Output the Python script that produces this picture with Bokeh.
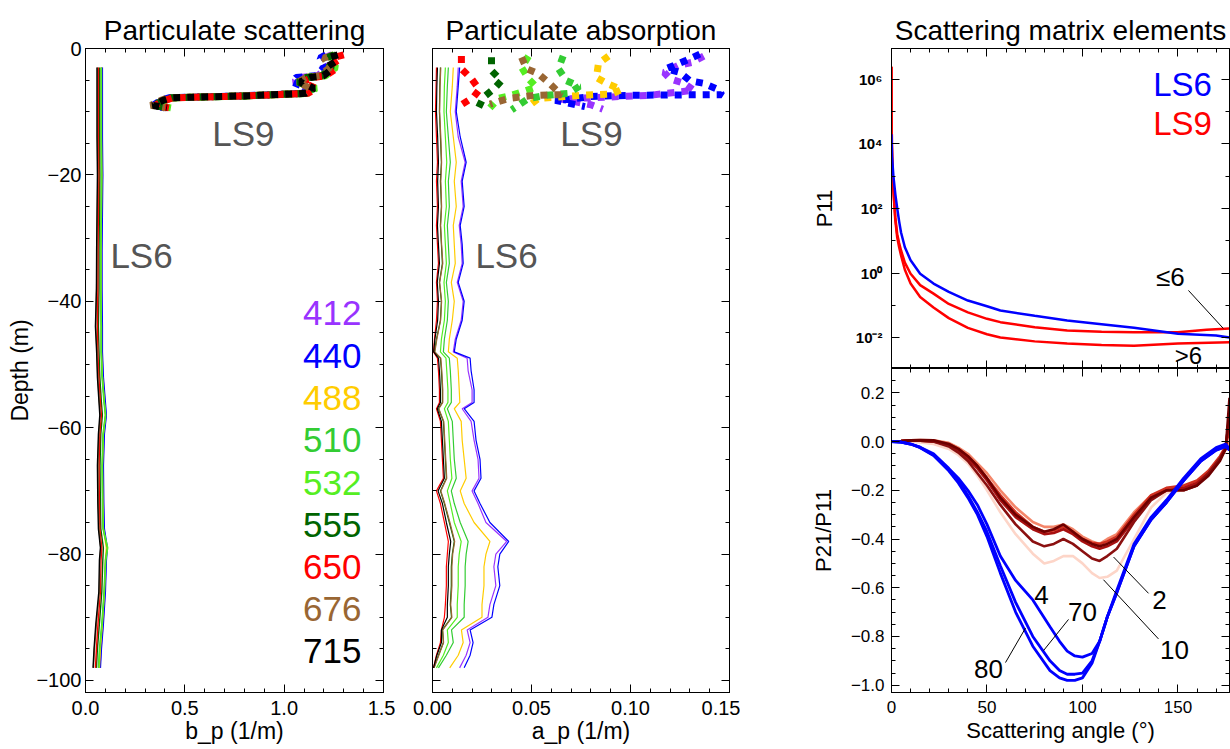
from bokeh.plotting import figure
from bokeh.models import (Range1d, LinearAxis, LogAxis, Label, FixedTicker,
                          SingleIntervalTicker, CustomJSTickFormatter)
from bokeh.layouts import row, column
from bokeh.embed import file_html
from bokeh.resources import INLINE

FONT = "Liberation Sans"

# ------------------------------------------------------------------ data
WAVELENGTHS = ["412", "440", "488", "510", "532", "555", "650", "676", "715"]
WL_COLORS = ["#9933ff", "#0000ff", "#ffcc00", "#33cc33", "#55ee22",
             "#006400", "#ff0000", "#996633", "#000000"]

# Panel 1: particulate scattering, LS6 (solid thin lines)
DEPTH_B6 = [-3, -8, -14, -20, -26, -32, -38, -44, -48, -52, -56, -58, -61, -66,
            -72, -76, -79, -81, -86, -91, -95, -98]
B6_412 = [0.083, 0.083, 0.083, 0.085, 0.083, 0.081, 0.081, 0.083, 0.083, 0.088, 0.098,
          0.103, 0.093, 0.088, 0.090, 0.093, 0.108, 0.103, 0.098, 0.088, 0.078, 0.073]
B6_440 = [0.085, 0.085, 0.085, 0.087, 0.085, 0.083, 0.083, 0.085, 0.085, 0.090, 0.100,
          0.105, 0.095, 0.090, 0.092, 0.095, 0.110, 0.105, 0.100, 0.090, 0.080, 0.075]
B6_488 = [0.080, 0.080, 0.080, 0.082, 0.080, 0.078, 0.078, 0.080, 0.080, 0.085, 0.095,
          0.100, 0.090, 0.085, 0.087, 0.090, 0.105, 0.100, 0.095, 0.085, 0.075, 0.070]
B6_510 = [0.078, 0.078, 0.078, 0.080, 0.078, 0.076, 0.076, 0.078, 0.078, 0.083, 0.093,
          0.100, 0.088, 0.083, 0.085, 0.088, 0.110, 0.100, 0.093, 0.082, 0.070, 0.065]
B6_532 = [0.080, 0.080, 0.080, 0.082, 0.080, 0.078, 0.078, 0.080, 0.080, 0.085, 0.095,
          0.102, 0.090, 0.085, 0.087, 0.090, 0.112, 0.102, 0.095, 0.084, 0.072, 0.067]
B6_555 = [0.070, 0.070, 0.070, 0.072, 0.070, 0.068, 0.068, 0.065, 0.068, 0.072, 0.080,
          0.085, 0.077, 0.073, 0.075, 0.077, 0.090, 0.087, 0.082, 0.070, 0.060, 0.055]
B6_650 = [0.065, 0.065, 0.065, 0.067, 0.065, 0.063, 0.062, 0.060, 0.062, 0.067, 0.075,
          0.080, 0.072, 0.068, 0.070, 0.072, 0.082, 0.078, 0.075, 0.063, 0.055, 0.050]
B6_676 = [0.060, 0.060, 0.060, 0.062, 0.060, 0.058, 0.056, 0.052, 0.058, 0.062, 0.070,
          0.075, 0.067, 0.063, 0.065, 0.068, 0.077, 0.073, 0.070, 0.055, 0.045, 0.040]
B6_715 = [0.058, 0.058, 0.058, 0.060, 0.058, 0.056, 0.055, 0.050, 0.056, 0.060, 0.068,
          0.072, 0.065, 0.060, 0.062, 0.065, 0.075, 0.070, 0.067, 0.052, 0.043, 0.038]

# Panel 1: particulate scattering, LS9 (thick dotted lines)
DEPTH_B9 = [-1.0, -1.5, -3.0, -4.3, -4.6, -5.3, -6.3, -7.1, -7.5, -7.8, -8.2, -9.0, -9.4]
B9_412 = [1.24, 1.20, 1.22, 1.17, 1.08, 1.05, 1.13, 1.10, 0.79, 0.43, 0.39, 0.34, 0.41]
B9_440 = [1.21, 1.18, 1.20, 1.16, 1.06, 1.04, 1.12, 1.09, 0.78, 0.42, 0.38, 0.34, 0.40]
B9_488 = [1.25, 1.21, 1.24, 1.19, 1.11, 1.07, 1.14, 1.11, 0.80, 0.44, 0.40, 0.35, 0.43]
B9_510 = [1.26, 1.22, 1.25, 1.20, 1.12, 1.08, 1.15, 1.11, 0.80, 0.44, 0.40, 0.35, 0.42]
B9_532 = [1.26, 1.23, 1.26, 1.21, 1.12, 1.08, 1.16, 1.12, 0.81, 0.44, 0.40, 0.35, 0.43]
B9_555 = [1.25, 1.21, 1.24, 1.19, 1.11, 1.07, 1.14, 1.10, 0.80, 0.43, 0.39, 0.34, 0.41]
B9_650 = [1.30, 1.24, 1.27, 1.21, 1.14, 1.09, 1.16, 1.12, 0.81, 0.44, 0.40, 0.35, 0.42]
B9_676 = [1.25, 1.20, 1.23, 1.18, 1.11, 1.07, 1.13, 1.10, 0.79, 0.42, 0.38, 0.33, 0.40]
B9_715 = [1.27, 1.22, 1.25, 1.20, 1.13, 1.08, 1.15, 1.11, 0.80, 0.43, 0.39, 0.34, 0.41]

# Panel 2: particulate absorption, LS6
DEPTH_A6 = [-3, -6, -10, -14, -18, -21, -25, -28, -31, -34, -37, -40, -43, -46, -48, -49,
            -51, -54, -56, -57, -59, -62, -65, -68, -70, -72, -75, -78, -80, -82, -85,
            -88, -90, -92, -94, -96, -98]
A6_412 = [0.013, 0.0125, 0.0115, 0.013, 0.0165, 0.0145, 0.0155, 0.0135, 0.0145, 0.015,
          0.0125, 0.0155, 0.0145, 0.0115, 0.0105, 0.0175, 0.018, 0.020, 0.020, 0.015,
          0.0195, 0.021, 0.023, 0.0235, 0.020, 0.023, 0.027, 0.0375, 0.032, 0.031,
          0.032, 0.029, 0.028, 0.0175, 0.019, 0.017, 0.0137]
A6_440 = [0.0137, 0.013, 0.012, 0.014, 0.017, 0.015, 0.016, 0.014, 0.015, 0.0155,
          0.013, 0.016, 0.015, 0.012, 0.011, 0.019, 0.0195, 0.021, 0.021, 0.016,
          0.021, 0.022, 0.024, 0.0245, 0.021, 0.024, 0.029, 0.0385, 0.034, 0.033,
          0.034, 0.031, 0.030, 0.019, 0.0205, 0.019, 0.016]
A6_488 = [0.0105, 0.010, 0.009, 0.0105, 0.012, 0.011, 0.012, 0.0105, 0.011, 0.0115,
          0.0095, 0.011, 0.010, 0.0085, 0.008, 0.0125, 0.013, 0.0135, 0.0138, 0.011,
          0.0145, 0.015, 0.016, 0.017, 0.014, 0.016, 0.021, 0.029, 0.027, 0.026,
          0.026, 0.025, 0.025, 0.0146, 0.0155, 0.013, 0.0087]
A6_510 = [0.008, 0.0075, 0.007, 0.008, 0.009, 0.008, 0.0085, 0.0075, 0.008, 0.0085,
          0.007, 0.008, 0.0075, 0.006, 0.0055, 0.0085, 0.009, 0.0095, 0.0095, 0.0075,
          0.010, 0.0105, 0.011, 0.012, 0.0095, 0.011, 0.014, 0.018, 0.017, 0.0165,
          0.0165, 0.016, 0.016, 0.0096, 0.0105, 0.007, 0.003]
A6_532 = [0.0065, 0.006, 0.0058, 0.0065, 0.0072, 0.0065, 0.007, 0.006, 0.0065, 0.007,
          0.0058, 0.0065, 0.006, 0.0045, 0.004, 0.0068, 0.0072, 0.0078, 0.0078, 0.006,
          0.008, 0.0085, 0.009, 0.0098, 0.0075, 0.009, 0.011, 0.0145, 0.0135, 0.013,
          0.013, 0.0125, 0.0125, 0.0075, 0.008, 0.0055, 0.002]
A6_555 = [0.004, 0.0037, 0.0035, 0.004, 0.0045, 0.004, 0.0045, 0.004, 0.0045, 0.005,
          0.0035, 0.0045, 0.004, 0.002, 0.001, 0.004, 0.0045, 0.005, 0.005, 0.003,
          0.0055, 0.006, 0.0065, 0.007, 0.004, 0.006, 0.0085, 0.011, 0.010, 0.0095,
          0.0095, 0.009, 0.0096, 0.005, 0.0055, 0.003, 0.0007]
A6_650 = [0.002, 0.0018, 0.0015, 0.002, 0.0025, 0.002, 0.0025, 0.002, 0.0025, 0.003,
          0.002, 0.0025, 0.002, 0.001, 0.0005, 0.0025, 0.003, 0.0035, 0.0035, 0.002,
          0.004, 0.0045, 0.005, 0.0055, 0.002, 0.004, 0.006, 0.008, 0.0075, 0.007,
          0.007, 0.0065, 0.006, 0.0045, 0.004, 0.002, 0.0005]
A6_676 = [0.0042, 0.0038, 0.0036, 0.0042, 0.0046, 0.0042, 0.0046, 0.0041, 0.0046, 0.0052,
          0.0036, 0.0046, 0.0041, 0.0022, 0.0012, 0.0042, 0.0047, 0.0052, 0.0052, 0.0032,
          0.0057, 0.0062, 0.0067, 0.0072, 0.0042, 0.0062, 0.0088, 0.0112, 0.0102, 0.0098,
          0.0098, 0.0092, 0.0098, 0.0052, 0.0056, 0.0032, 0.0008]
A6_715 = [0.0025, 0.0022, 0.002, 0.0026, 0.003, 0.0026, 0.003, 0.0025, 0.003, 0.0035,
          0.0024, 0.003, 0.0026, 0.0012, 0.0006, 0.003, 0.0035, 0.004, 0.004, 0.0024,
          0.0045, 0.005, 0.0055, 0.006, 0.0028, 0.005, 0.007, 0.0092, 0.0085, 0.008,
          0.008, 0.0075, 0.0075, 0.0045, 0.0045, 0.0022, 0.0005]

# Panel 2: particulate absorption, LS9 (each band its own depths)
D9_412 = [-1.2, -2.2, -2.7, -3.8, -4.8, -5.5, -6.6, -7.4, -8.0, -8.9, -9.6]
A9_412 = [0.137, 0.131, 0.124, 0.117, 0.120, 0.127, 0.132, 0.110, 0.065, 0.080, 0.086]
D9_440 = [-0.9, -1.9, -2.7, -3.2, -3.8, -5.1, -5.5, -6.6, -7.3, -7.4, -7.6, -8.0, -8.2, -9.2]
A9_440 = [0.135, 0.128, 0.122, 0.118, 0.125, 0.130, 0.137, 0.145, 0.146, 0.100, 0.080,
          0.070, 0.062, 0.077]
D9_488 = [-1.2, -2.4, -4.6, -5.5, -6.5, -7.2, -7.4, -7.9, -9.1]
A9_488 = [0.0889, 0.0838, 0.0828, 0.0879, 0.0955, 0.0904, 0.0753, 0.0535, 0.0485]
D9_510 = [-1.2, -3.2, -5.1, -6.0, -7.1, -7.4, -7.9, -9.7]
A9_510 = [0.066, 0.0636, 0.0677, 0.0742, 0.0687, 0.0576, 0.0485, 0.040]
D9_532 = [-1.2, -3.0, -4.8, -6.1, -7.4, -7.9, -9.4]
A9_532 = [0.0485, 0.045, 0.0485, 0.0525, 0.040, 0.0333, 0.029]
D9_555 = [-1.4, -3.5, -5.1, -6.3, -7.7, -9.4]
A9_555 = [0.0298, 0.0298, 0.0348, 0.0313, 0.0258, 0.0232]
D9_650 = [-1.2, -3.2, -4.8, -6.5, -7.7, -8.9]
A9_650 = [0.0146, 0.0146, 0.0197, 0.0237, 0.0207, 0.0146]
D9_676 = [-1.4, -3.2, -4.0, -5.5, -7.3, -7.4, -7.9, -8.8]
A9_676 = [0.045, 0.0475, 0.0535, 0.059, 0.065, 0.0515, 0.0384, 0.029]

# Panel 3 top: P11 phase functions
ANG_P11_LS6 = [0, 0.3, 1, 2, 3, 4, 5, 7, 10, 15, 22, 30, 40, 50, 57, 75, 92, 110, 127,
               150, 170, 177]
P11_LS6 = [2.0e4, 4.0e3, 1.0e3, 2.8e2, 1.0e2, 40, 18, 6.3, 2.5, 0.95, 0.47, 0.26, 0.14,
           0.093, 0.069, 0.047, 0.034, 0.026, 0.020, 0.013, 0.0115, 0.010]
ANG_P11_LE6 = [0, 0.05, 0.2, 0.5, 1, 2, 3, 4, 5, 7, 10, 15, 22, 30, 40, 50, 57, 75, 92,
               110, 127, 150, 165, 177]
P11_LS9_LE6 = [2.5e6, 1.0e5, 1.0e4, 1.6e3, 4.0e2, 52, 16, 8.5, 5.0, 2.1, 0.95, 0.42, 0.23,
               0.11, 0.060, 0.038, 0.030, 0.021, 0.0166, 0.0151, 0.0145, 0.0145, 0.0174, 0.019]
ANG_P11_GT6 = [0, 0.05, 0.2, 0.5, 1, 2, 3, 4, 5, 7, 10, 15, 22, 30, 40, 50, 57, 75, 92,
               110, 127, 150, 177]
P11_LS9_GT6 = [2.5e6, 1.0e5, 1.0e4, 1.6e3, 3.5e2, 43, 12.6, 6.3, 3.5, 1.26, 0.47, 0.18,
               0.085, 0.040, 0.020, 0.0126, 0.010, 0.0076, 0.0065, 0.0059, 0.0056, 0.0065,
               0.0071]

# Panel 3 bottom: P21/P11
ANG_B = [0, 5, 10, 15, 22, 30, 35, 40, 45, 50, 57, 65, 74, 83, 88, 92, 96, 100, 105, 109,
         113, 118, 127, 136, 144, 148, 153, 162, 170, 175, 177]
P21_LS6_80 = [0, -0.002, -0.01, -0.025, -0.057, -0.12, -0.17, -0.23, -0.30, -0.39,
              -0.54, -0.70, -0.84, -0.94, -0.97, -0.98, -0.98, -0.97, -0.91, -0.82,
              -0.72, -0.61, -0.42, -0.31, -0.24, -0.20, -0.15, -0.07, -0.025, -0.01, -0.03]
P21_LS6_70 = [0, -0.002, -0.01, -0.024, -0.055, -0.115, -0.16, -0.22, -0.29, -0.37,
              -0.51, -0.66, -0.80, -0.90, -0.94, -0.955, -0.955, -0.95, -0.90, -0.82,
              -0.72, -0.62, -0.43, -0.32, -0.25, -0.21, -0.16, -0.08, -0.035, -0.02, -0.035]
P21_LS6_4 = [0, -0.002, -0.01, -0.023, -0.05, -0.11, -0.15, -0.20, -0.26, -0.34,
             -0.47, -0.57, -0.65, -0.76, -0.82, -0.86, -0.88, -0.885, -0.87, -0.82,
             -0.72, -0.62, -0.43, -0.32, -0.25, -0.21, -0.16, -0.08, -0.035, -0.02, -0.035]
ANG_R = [0, 5, 10, 15, 22, 30, 35, 40, 45, 50, 57, 65, 74, 80, 85, 90, 95, 100, 105, 109,
         113, 118, 127, 136, 144, 153, 160, 166, 172, 175, 177]
P21_LS9_A = [0, 0.002, 0.005, 0.006, 0.005, -0.01, -0.03, -0.06, -0.10, -0.15,
             -0.23, -0.30, -0.35, -0.37, -0.36, -0.34, -0.37, -0.40, -0.42, -0.43,
             -0.42, -0.40, -0.31, -0.23, -0.20, -0.20, -0.18, -0.14, -0.08, -0.03, 0.18]
P21_LS9_B = [0, 0.002, 0.005, 0.004, 0.0, -0.015, -0.04, -0.07, -0.11, -0.16,
             -0.24, -0.31, -0.36, -0.38, -0.375, -0.36, -0.38, -0.41, -0.43, -0.44,
             -0.43, -0.41, -0.32, -0.23, -0.20, -0.19, -0.17, -0.13, -0.07, -0.02, 0.10]
P21_LS9_C = [0, 0.002, 0.005, 0.005, 0.003, -0.01, -0.03, -0.06, -0.10, -0.15,
             -0.22, -0.29, -0.35, -0.37, -0.365, -0.35, -0.37, -0.40, -0.415, -0.42,
             -0.41, -0.39, -0.30, -0.22, -0.19, -0.18, -0.16, -0.12, -0.06, -0.02, 0.05]
P21_LS9_D = [0, 0.002, 0.005, 0.006, 0.005, -0.005, -0.025, -0.05, -0.09, -0.13,
             -0.20, -0.27, -0.33, -0.35, -0.35, -0.34, -0.36, -0.39, -0.41, -0.42,
             -0.40, -0.38, -0.29, -0.22, -0.20, -0.19, -0.17, -0.13, -0.07, -0.03, 0.0]
P21_LS9_2 = [0, 0.002, 0.005, 0.004, 0.0, -0.02, -0.045, -0.08, -0.13, -0.18,
             -0.26, -0.34, -0.41, -0.43, -0.42, -0.40, -0.42, -0.45, -0.48, -0.49,
             -0.47, -0.44, -0.33, -0.24, -0.20, -0.20, -0.18, -0.13, -0.07, -0.03, 0.12]
P21_LS9_10 = [0, 0.0, 0.0, -0.004, -0.01, -0.03, -0.055, -0.09, -0.14, -0.20,
              -0.29, -0.38, -0.46, -0.50, -0.49, -0.47, -0.47, -0.50, -0.54, -0.56,
              -0.555, -0.53, -0.40, -0.27, -0.21, -0.20, -0.18, -0.13, -0.07, -0.03, 0.0]

# annotation positions (data units)
WL_LABEL_DEPTH = [-41.9, -48.6, -55.3, -62.0, -68.7, -75.4, -82.0, -88.7, -95.4]
LEADER_X0 = [92.7, 59.7, 134.6, 139.8]
LEADER_Y0 = [-0.73, -0.907, -0.623, -0.81]
LEADER_X1 = [79.6, 70.2, 116.3, 111.0]
LEADER_Y1 = [-0.858, -0.765, -0.474, -0.567]


# ------------------------------------------------------------------ helpers
def num_fmt(decimals):
    return CustomJSTickFormatter(code="""
        const v = Math.abs(tick) < 1e-9 ? 0 : tick;
        return (v < 0 ? '\\u2212' : '') + Math.abs(v).toFixed(%d);
    """ % decimals)


BLANK = CustomJSTickFormatter(code="return '';")
LOG_FMT = CustomJSTickFormatter(code="""
    const e = Math.round(Math.log10(tick));
    const sup = {'-':'\\u207B','0':'\\u2070','1':'\\u00B9','2':'\\u00B2','3':'\\u00B3',
                 '4':'\\u2074','5':'\\u2075','6':'\\u2076','7':'\\u2077','8':'\\u2078','9':'\\u2079'};
    return '10' + String(e).split('').map(c => sup[c]).join('');
""")


def style_axis(ax, ticker, formatter, size=None, standoff=6):
    ax.ticker = ticker
    ax.major_tick_in = 8
    ax.major_tick_out = 0
    ax.minor_tick_in = 4
    ax.minor_tick_out = 0
    ax.axis_line_color = "black"
    ax.major_tick_line_color = "black"
    ax.minor_tick_line_color = "black"
    ax.major_label_text_font = FONT
    ax.major_label_text_color = "black"
    ax.axis_label_text_font = FONT
    ax.axis_label_text_font_style = "normal"
    ax.axis_label_text_color = "black"
    if size is None:
        ax.formatter = BLANK
        ax.major_label_text_font_size = "0px"
        ax.major_label_standoff = 0
    else:
        ax.formatter = formatter
        ax.major_label_text_font_size = size
        ax.major_label_standoff = standoff


def new_fig(width, height, xr, yr, borders, title=None, ylog=False):
    p = figure(width=width, height=height, x_range=xr, y_range=yr,
               y_axis_type="log" if ylog else "linear", title=title,
               output_backend="svg", toolbar_location=None,
               min_border_left=borders[0], min_border_right=borders[1],
               min_border_top=borders[2], min_border_bottom=borders[3])
    p.grid.visible = False
    p.outline_line_color = "black"
    p.background_fill_color = "white"
    p.border_fill_color = "white"
    if title is not None:
        p.title.align = "center"
        p.title.text_font = FONT
        p.title.text_font_size = "28px"
        p.title.text_font_style = "normal"
        p.title.text_color = "black"
        p.title.standoff = 5
    return p


def add_mirror_axes(p, xticker, yticker, ylog=False):
    top = LinearAxis()
    style_axis(top, xticker, None)
    p.add_layout(top, "above")
    right = LogAxis() if ylog else LinearAxis()
    style_axis(right, yticker, None)
    p.add_layout(right, "right")


def text(p, x, y, s, size, color="black", align="center"):
    p.add_layout(Label(x=x, y=y, text=s, text_font=FONT, text_font_size=size,
                       text_color=color, text_align=align, text_baseline="middle"))


GREY = "#555555"
depth_ticker = SingleIntervalTicker(interval=20, num_minor_ticks=4)

# ------------------------------------------------------------------ panel 1
p1 = new_fig(395, 749, Range1d(0, 1.5001), Range1d(-101.9, 0), (85, 12, 48, 57),
             title="Particulate scattering")
bx_ticker = SingleIntervalTicker(interval=0.5, num_minor_ticks=5)
style_axis(p1.xaxis[0], bx_ticker, num_fmt(1), "20px", 8)
style_axis(p1.yaxis[0], depth_ticker, num_fmt(0), "20px", 4)
p1.xaxis[0].axis_label = "b_p (1/m)"
p1.xaxis[0].axis_label_text_font_size = "23px"
p1.xaxis[0].axis_label_standoff = 0
p1.yaxis[0].axis_label = "Depth (m)"
p1.yaxis[0].axis_label_text_font_size = "23px"
p1.yaxis[0].axis_label_standoff = 0
add_mirror_axes(p1, bx_ticker, depth_ticker)

B6 = [B6_412, B6_440, B6_488, B6_510, B6_532, B6_555, B6_650, B6_676, B6_715]
B9 = [B9_412, B9_440, B9_488, B9_510, B9_532, B9_555, B9_650, B9_676, B9_715]
for vals, col in zip(B6, WL_COLORS):
    p1.line(vals, DEPTH_B6, line_color=col, line_width=1.4)
for vals, col, wl in zip(B9, WL_COLORS, WAVELENGTHS):
    p1.line(vals, DEPTH_B9, line_color=col, line_width=7, line_dash="7 7",
            line_dash_offset=7 if wl == "676" else 0)

text(p1, 0.795, -13.4, "LS9", "35px", GREY)
text(p1, 0.282, -32.7, "LS6", "35px", GREY)
for wl, col, d in zip(WAVELENGTHS, WL_COLORS, WL_LABEL_DEPTH):
    text(p1, 1.389, d, wl, "35px", col, "right")

# ------------------------------------------------------------------ panel 2
p2 = new_fig(345, 749, Range1d(0, 0.15001), Range1d(-101.9, 0), (37, 11, 48, 57),
             title="Particulate absorption")
ax_ticker = SingleIntervalTicker(interval=0.05, num_minor_ticks=5)
style_axis(p2.xaxis[0], ax_ticker, num_fmt(2), "20px", 8)
style_axis(p2.yaxis[0], depth_ticker, None)
p2.xaxis[0].axis_label = "a_p (1/m)"
p2.xaxis[0].axis_label_text_font_size = "23px"
p2.xaxis[0].axis_label_standoff = 0
add_mirror_axes(p2, ax_ticker, depth_ticker)

A6 = [A6_412, A6_440, A6_488, A6_510, A6_532, A6_555, A6_650, A6_676, A6_715]
for vals, col in zip(A6, WL_COLORS):
    p2.line(vals, DEPTH_A6, line_color=col, line_width=1.2)
A9 = [(A9_412, D9_412), (A9_440, D9_440), (A9_488, D9_488), (A9_510, D9_510),
      (A9_532, D9_532), (A9_555, D9_555), (A9_650, D9_650), (A9_676, D9_676)]
for (vals, dep), col in zip(A9, WL_COLORS):
    p2.line(vals, dep, line_color=col, line_width=7, line_dash="7 7")

text(p2, 0.0803, -13.4, "LS9", "35px", GREY)
text(p2, 0.0374, -32.7, "LS6", "35px", GREY)

# ------------------------------------------------------------------ panel 3 (top)
ang_range = Range1d(0, 177)
ang_ticker = SingleIntervalTicker(interval=50, num_minor_ticks=5)
p11_ticker = FixedTicker(ticks=[1e-2, 1, 1e2, 1e4, 1e6],
                         minor_ticks=[1e-3, 1e-1, 1e1, 1e3, 1e5, 1e7])
p3a = new_fig(490, 368, ang_range, Range1d(10 ** -2.96, 10 ** 6.96), (151, 1, 48, 0),
              title="Scattering matrix elements", ylog=True)
style_axis(p3a.xaxis[0], ang_ticker, None)
style_axis(p3a.yaxis[0], p11_ticker, LOG_FMT, "15px", 9)
p3a.yaxis[0].major_label_text_font_style = "bold"
p3a.yaxis[0].axis_label = "P11"
p3a.yaxis[0].axis_label_text_font_size = "22px"
p3a.yaxis[0].axis_label_standoff = 16
add_mirror_axes(p3a, ang_ticker, p11_ticker, ylog=True)

p3a.line(ANG_P11_LE6, P11_LS9_LE6, line_color="#ff0000", line_width=2.5)
p3a.line(ANG_P11_GT6, P11_LS9_GT6, line_color="#ff0000", line_width=2.5)
p3a.line(ANG_P11_LS6, P11_LS6, line_color="#0000ff", line_width=2.5)

text(p3a, 167.8, 10 ** 5.85, "LS6", "33px", "#0000ff", "right")
text(p3a, 167.8, 10 ** 4.64, "LS9", "33px", "#ff0000", "right")
text(p3a, 146, 10 ** -0.11, "\u22646", "26px")
text(p3a, 155.5, 10 ** -2.55, ">6", "24px")
p3a.segment([155.5], [10 ** -0.54], [173.8], [10 ** -1.72], line_color="black", line_width=1)

# ------------------------------------------------------------------ panel 3 (bottom)
p21_ticker = SingleIntervalTicker(interval=0.2, num_minor_ticks=4)
p3b = new_fig(490, 381, ang_range, Range1d(-1.03, 0.30), (151, 1, 0, 57))
style_axis(p3b.xaxis[0], ang_ticker, num_fmt(0), "17px", 8)
style_axis(p3b.yaxis[0], p21_ticker, num_fmt(1), "17px", 7)
p3b.xaxis[0].axis_label = "Scattering angle (\u00b0)"
p3b.xaxis[0].axis_label_text_font_size = "22px"
p3b.xaxis[0].axis_label_standoff = 2
p3b.yaxis[0].axis_label = "P21/P11"
p3b.yaxis[0].axis_label_text_font_size = "22px"
p3b.yaxis[0].axis_label_standoff = 12
add_mirror_axes(p3b, ang_ticker, p21_ticker)

RED_SERIES = [(P21_LS9_10, "#fdd5c8"), (P21_LS9_D, "#f4866a"), (P21_LS9_C, "#d03020"),
              (P21_LS9_B, "#a81010"), (P21_LS9_2, "#8b1010"), (P21_LS9_A, "#6e0000")]
for vals, col in RED_SERIES:
    p3b.line(ANG_R, vals, line_color=col, line_width=2.6)
for vals in (P21_LS6_4, P21_LS6_70, P21_LS6_80):
    p3b.line(ANG_B, vals, line_color="#0000ff", line_width=2.8)

text(p3b, 78.5, -0.63, "4", "26px")
text(p3b, 100, -0.70, "70", "26px")
text(p3b, 50.8, -0.935, "80", "26px")
text(p3b, 140.3, -0.65, "2", "26px")
text(p3b, 148.2, -0.854, "10", "26px")
p3b.segment(LEADER_X0, LEADER_Y0, LEADER_X1, LEADER_Y1, line_color="black", line_width=1)

layout = row(p1, p2, column(p3a, p3b, spacing=0), spacing=0)
open("out.html", "w").write(file_html(layout, INLINE))
